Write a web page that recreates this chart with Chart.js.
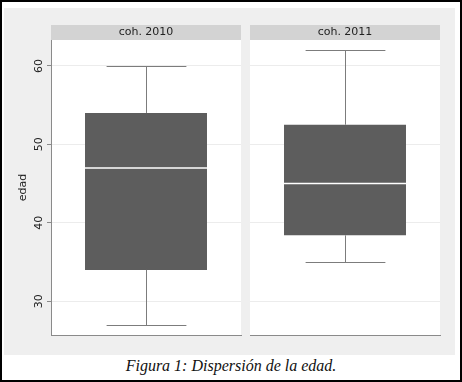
<!DOCTYPE html>
<html>
<head>
<meta charset="utf-8">
<script src="https://cdn.jsdelivr.net/npm/chart.js@4.4.1/dist/chart.umd.min.js"></script>
<style>
  html, body { margin: 0; padding: 0; background: #fff; }
  #frame { position: absolute; left: 0; top: 0; width: 458px; height: 378px; border: 2px solid #000; background: #fff; }
  #gray { position: absolute; left: 4px; top: 8px; width: 451px; height: 347px; background: #efefef; }
  .panel { position: absolute; top: 8px; height: 347px; }
  #p1 { left: 4px; width: 241px; }
  #p2 { left: 245px; width: 210px; }
  #caption { position: absolute; left: 0; top: 355px; width: 462px; height: 24px; text-align: center;
             font-family: "Liberation Serif", "DejaVu Serif", serif; font-style: italic; font-size: 16px; line-height: 22px; color: #111; }
</style>
</head>
<body>
<div id="frame"></div>
<div id="gray"></div>
<div class="panel" id="p1"><canvas id="c1" width="241" height="347"></canvas></div>
<div class="panel" id="p2"><canvas id="c2" width="210" height="347"></canvas></div>
<div id="caption">Figura 1: Dispersión de la edad.</div>
<script>
const categories = ['coh. 2010', 'coh. 2011'];
const mins    = [27, 35];
const q1      = [34, 38.4];
const medians = [47, 45];
const q3      = [54, 52.5];
const maxs    = [60, 62];
const yTicks  = [30, 40, 50, 60];
const yTitle  = 'edad';
const yMin = 25.7, yMax = 63.3;

const boxPlugin = {
  id: 'boxPlugin',
  beforeDraw(chart, args, opts) {
    const { ctx, chartArea: a } = chart;
    ctx.save();
    ctx.fillStyle = '#ffffff';
    ctx.fillRect(a.left, a.top, a.right - a.left, a.bottom - a.top);
    ctx.fillStyle = '#d3d3d3';
    ctx.fillRect(a.left, a.top - 15, a.right - a.left, 15);
    ctx.restore();
  },
  afterDatasetsDraw(chart, args, opts) {
    const i = opts.index;
    const { ctx } = chart;
    const y = chart.scales.y;
    const bar = chart.getDatasetMeta(0).data[0];
    const cx = Math.round(bar.x) + 0.5;
    const halfBox = bar.width / 2;
    const capHalf = (chart.chartArea.right - chart.chartArea.left) * 0.21;
    ctx.save();
    ctx.strokeStyle = '#7c7c7c';
    ctx.lineWidth = 1;
    const yq3 = y.getPixelForValue(q3[i]), ymax = Math.round(y.getPixelForValue(maxs[i])) + 0.5;
    const yq1 = y.getPixelForValue(q1[i]), ymin = Math.round(y.getPixelForValue(mins[i])) + 0.5;
    ctx.beginPath();
    ctx.moveTo(cx, yq3); ctx.lineTo(cx, ymax);
    ctx.moveTo(cx - capHalf, ymax); ctx.lineTo(cx + capHalf, ymax);
    ctx.moveTo(cx, yq1); ctx.lineTo(cx, ymin);
    ctx.moveTo(cx - capHalf, ymin); ctx.lineTo(cx + capHalf, ymin);
    ctx.stroke();
    ctx.strokeStyle = '#ffffff';
    ctx.lineWidth = 1.5;
    const ymed = y.getPixelForValue(medians[i]);
    ctx.beginPath();
    ctx.moveTo(bar.x - halfBox, ymed); ctx.lineTo(bar.x + halfBox, ymed);
    ctx.stroke();
    ctx.restore();
  }
};

function makeChart(id, i, showAxis) {
  return new Chart(document.getElementById(id), {
    type: 'bar',
    data: {
      labels: [categories[i]],
      datasets: [{
        data: [[q1[i], q3[i]]],
        backgroundColor: '#5d5d5d',
        borderWidth: 0,
        categoryPercentage: 1,
        barPercentage: 0.642
      }]
    },
    plugins: [boxPlugin],
    options: {
      responsive: false,
      animation: false,
      events: [],
      layout: { padding: { left: showAxis ? 0 : 5, right: showAxis ? 4 : 15, top: 0, bottom: 20 } },
      plugins: {
        legend: { display: false },
        tooltip: { enabled: false },
        boxPlugin: { index: i },
        title: {
          display: true,
          text: categories[i],
          fullSize: false,
          color: '#222',
          font: { family: 'DejaVu Sans', size: 11, weight: 'normal', lineHeight: 13 / 11 },
          padding: { top: 18, bottom: 1 }
        }
      },
      scales: {
        x: {
          type: 'category',
          display: true,
          grid: { display: false },
          ticks: { display: false },
          border: { display: true, color: '#8a8a8a', width: 1 },
          afterFit(s) { s.height = 0; }
        },
        y: {
          type: 'linear',
          min: yMin,
          max: yMax,
          afterBuildTicks(s) { s.ticks = yTicks.map(v => ({ value: v })); },
          grid: { color: '#ececec', lineWidth: 1, drawTicks: showAxis, tickLength: 4, tickColor: '#8a8a8a' },
          border: { display: showAxis, color: '#8a8a8a', width: 1 },
          ticks: {
            display: showAxis,
            minRotation: 90, maxRotation: 90,
            crossAlign: 'center',
            padding: 1,
            color: '#222',
            font: { family: 'DejaVu Sans', size: 11 }
          },
          title: {
            display: showAxis,
            text: yTitle,
            color: '#222',
            font: { family: 'DejaVu Sans', size: 11 },
            padding: { top: 13, bottom: 0 }
          },
          afterFit(s) { s.width = showAxis ? 47 : 0; }
        }
      }
    }
  });
}
makeChart('c1', 0, true);
makeChart('c2', 1, false);
</script>
</body>
</html>
